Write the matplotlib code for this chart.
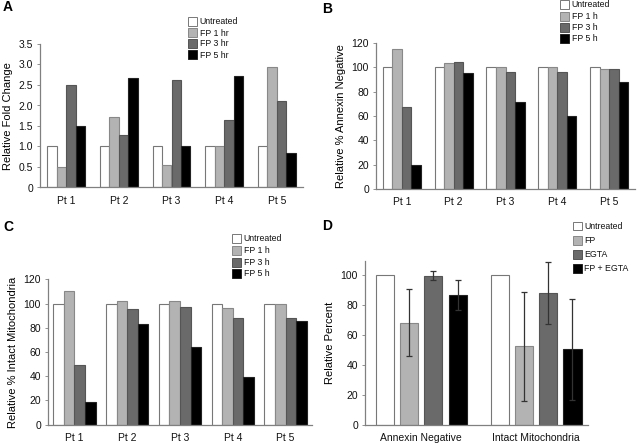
import matplotlib
matplotlib.use("Agg")
import matplotlib.pyplot as plt
import numpy as np

plt.rcParams['font.family'] = ['Liberation Sans', 'DejaVu Sans']

patients = ["Pt 1", "Pt 2", "Pt 3", "Pt 4", "Pt 5"]

# Panel A: relative fold change
a_labels = ["Untreated", "FP 1 hr", "FP 3 hr", "FP 5 hr"]
a_untreated = [1.0, 1.0, 1.0, 1.0, 1.0]
a_fp1 = [0.51, 1.71, 0.55, 1.0, 2.93]
a_fp3 = [2.51, 1.27, 2.62, 1.65, 2.10]
a_fp5 = [1.51, 2.66, 1.0, 2.71, 0.84]

# Panel B: relative % annexin negative
b_labels = ["Untreated", "FP 1 h", "FP 3 h", "FP 5 h"]
b_untreated = [100, 100, 100, 100, 100]
b_fp1 = [115.4, 103.6, 100, 100, 98.5]
b_fp3 = [67.5, 104.0, 96.5, 96.0, 98.7]
b_fp5 = [19.9, 95.5, 71.6, 60.4, 87.8]

# Panel C: relative % intact mitochondria
c_labels = ["Untreated", "FP 1 h", "FP 3 h", "FP 5 h"]
c_untreated = [100, 100, 100, 100, 100]
c_fp1 = [110.1, 102.1, 102.4, 96.1, 100]
c_fp3 = [49.5, 95.2, 96.8, 87.8, 87.8]
c_fp5 = [18.4, 82.8, 64.1, 39.4, 85.9]

# Panel D: relative percent with error bars
d_categories = ["Annexin Negative", "Intact Mitochondria"]
d_labels = ["Untreated", "FP", "EGTA", "FP + EGTA"]
d_untreated = [100, 100]
d_fp = [68.1, 52.4]
d_egta = [99.3, 87.6]
d_fpegta = [86.5, 50.2]
d_fp_err = [22.0, 36.3]
d_egta_err = [3.2, 20.6]
d_fpegta_err = [10.2, 33.4]

colors = ["#ffffff", "#b3b3b3", "#6a6a6a", "#000000"]
edges = ["#777777", "#888888", "#555555", "#222222"]
axis_col = "#808080"

W, H = 640, 444
fig = plt.figure(figsize=(6.4, 4.44), dpi=100)


def ax_at(left, top, right, bottom):
    return fig.add_axes([left / W, (H - bottom) / H, (right - left) / W, (bottom - top) / H])


def style(ax):
    for s in ["top", "right"]:
        ax.spines[s].set_visible(False)
    for s in ["left", "bottom"]:
        ax.spines[s].set_color(axis_col)
        ax.spines[s].set_linewidth(0.9)
    ax.tick_params(axis="y", length=2, width=0.6, color=axis_col, labelsize=7.5, pad=3, labelcolor="#111111")
    ax.tick_params(axis="x", length=0, labelsize=7.5, pad=6, labelcolor="#111111")


def grouped(ax, series, width):
    x = np.arange(len(patients))
    n = len(series)
    for i, vals in enumerate(series):
        ax.bar(x + (i - (n - 1) / 2) * width, vals, width, color=colors[i],
               edgecolor=edges[i], linewidth=0.8, zorder=2)
    ax.set_xticks(x)
    ax.set_xticklabels(patients)
    ax.set_xlim(-0.5, 4.5)


def legend(labels, x0, y0, dy, size=6.3):
    for i, lab in enumerate(labels):
        y = y0 + i * dy
        fig.patches.append(plt.Rectangle((x0 / W, (H - y - 4.5) / H), 8.5 / W, 9 / H,
                                         transform=fig.transFigure, facecolor=colors[i],
                                         edgecolor=edges[i] if i else "#777777", linewidth=0.7))
        fig.text((x0 + 11.5) / W, (H - y) / H, lab, fontsize=size, va="center", ha="left", color="#111111")


# Panel A
axA = ax_at(40, 44, 303, 187.5)
grouped(axA, [a_untreated, a_fp1, a_fp3, a_fp5], 0.18)
axA.set_ylim(0, 3.5)
axA.set_yticks([0, 0.5, 1.0, 1.5, 2.0, 2.5, 3.0, 3.5])
axA.set_yticklabels(["0", "0.5", "1.0", "1.5", "2.0", "2.5", "3.0", "3.5"])
axA.set_ylabel("Relative Fold Change", fontsize=8, labelpad=4)
style(axA)
legend(a_labels, 188, 22, 11)

# Panel B
axB = ax_at(376, 43, 635, 189)
grouped(axB, [b_untreated, b_fp1, b_fp3, b_fp5], 0.185)
axB.set_ylim(0, 120)
axB.set_yticks(range(0, 121, 20))
axB.set_ylabel("Relative % Annexin Negative", fontsize=8, labelpad=4)
style(axB)
legend(b_labels, 560, 4.7, 11.4)

# Panel C
axC = ax_at(48, 279.3, 312, 424.7)
grouped(axC, [c_untreated, c_fp1, c_fp3, c_fp5], 0.2)
axC.set_ylim(0, 120)
axC.set_yticks(range(0, 121, 20))
axC.set_ylabel("Relative % Intact Mitochondria", fontsize=8, labelpad=4)
style(axC)
legend(c_labels, 232, 238.5, 11.8)

# Panel D
axD = ax_at(365, 261, 588, 425)
xd = np.arange(len(d_categories))
step, bw = 0.21, 0.157
d_series = [d_untreated, d_fp, d_egta, d_fpegta]
d_errs = [None, d_fp_err, d_egta_err, d_fpegta_err]
for i, (vals, err) in enumerate(zip(d_series, d_errs)):
    axD.bar(xd + (i - 1.5) * step, vals, bw, color=colors[i], edgecolor=edges[i],
            linewidth=0.8, zorder=2)
    if err is not None:
        axD.errorbar(xd + (i - 1.5) * step, vals, yerr=err, fmt="none", ecolor="#333333",
                     elinewidth=0.9, capsize=2.3, capthick=0.9, zorder=3)
axD.set_xticks(xd)
axD.set_xticklabels(d_categories)
axD.set_xlim(-0.49, 1.45)
axD.set_ylim(0, 109)
axD.set_yticks(range(0, 101, 20))
axD.set_ylabel("Relative Percent", fontsize=8, labelpad=4)
style(axD)
legend(d_labels, 573, 226, 14.2)

# Panel letters
for letter, (x, y) in zip("ABCD", [(3, 7), (322, 9), (3, 227), (322, 226)]):
    fig.text(x / W, (H - y) / H, letter, fontsize=10, fontweight="bold", va="center", ha="left")

fig.savefig("out.png", dpi=100)
